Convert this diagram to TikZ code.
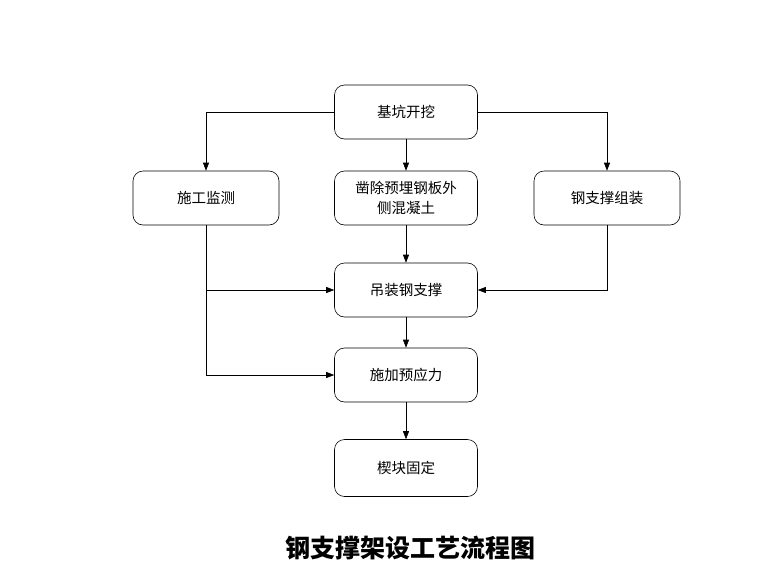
\documentclass[tikz,border=0pt]{standalone}
\usepackage{fontspec}
\setmainfont{Noto Sans CJK SC}
\usetikzlibrary{arrows.meta}
\begin{document}
\begin{tikzpicture}[x=1pt,y=-1pt,
  box/.style={draw,rounded corners=10pt,minimum width=143pt,minimum height=54pt,align=center,font=\fontsize{14.5}{20}\selectfont,line width=0.6pt},
  arr/.style={-{Triangle[length=8pt,width=6pt]},line width=0.6pt}]
\useasboundingbox (0,0) rectangle (760,571);
\node[box] (a) at (406,112) {基坑开挖};
\node[box,minimum width=146pt] (b) at (206,198) {施工监测};
\node[box] (c) at (406,198) {凿除预埋钢板外\\侧混凝土};
\node[box,minimum width=146pt] (d) at (607,198) {钢支撑组装};
\node[box] (e) at (406,290) {吊装钢支撑};
\node[box] (f) at (406,375) {施加预应力};
\node[box,minimum height=57pt] (g) at (406,468) {楔块固定};
\node[font=\fontsize{25}{30}\selectfont\bfseries] (t) at (410,548) {钢支撑架设工艺流程图};
\coordinate (j1) at (206,290);
\draw[arr] (a.west) -| (b.north);
\draw[arr] (a.east) -| (d.north);
\draw[arr] (a) -- (c);
\draw[arr] (c) -- (e);
\draw[arr] (e) -- (f);
\draw[arr] (f) -- (g);
\draw[arr] (b.south) |- (f.west);
\draw[arr] (j1) -- (e.west);
\draw[arr] (d.south) |- (e.east);
\end{tikzpicture}
\end{document}
